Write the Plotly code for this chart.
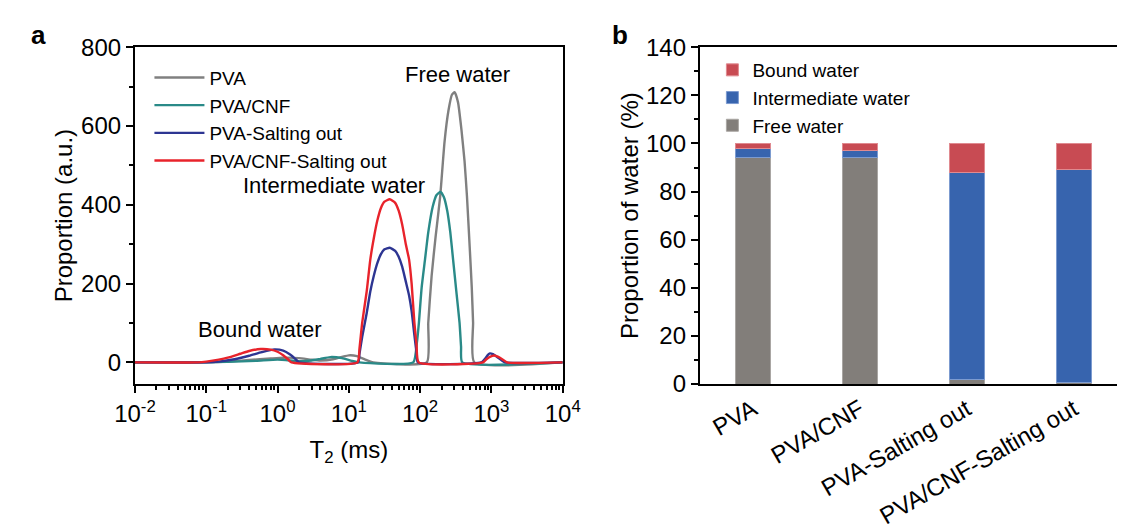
import plotly.graph_objects as go

# ---------------- Panel a data (T2 in ms, proportion in a.u.) ----------------
pva_t2 = [0.01, 0.1, 0.2, 0.4, 0.8, 1.2, 2.0, 3.0, 4.0, 6.0, 8.0, 10.0, 13.0, 17.0, 22.0,
          124, 130, 145, 165, 191, 220, 250, 280, 305, 340, 380, 420, 454, 500, 530, 553, 575, 10000]
pva_y = [0, 0, 2, 6, 10, 12, 11, 7, 5, 8, 14, 18, 16, 7, 0,
         0, 100, 220, 320, 421, 560, 640, 680, 686, 660, 590, 510, 421, 280, 190, 101, 0, 0]

cnf_t2 = [0.01, 0.08, 0.2, 0.5, 1.0, 1.5, 2.0, 3.0, 4.0, 5.5, 8.0, 11.0, 14.0,
          80, 90, 96, 105, 117, 130, 150, 170, 193, 215, 240, 265, 290, 320, 357, 375, 390, 10000]
cnf_y = [0, 0, 1.5, 4, 7, 5, 3, 5, 9, 13.5, 11, 4, 0,
         0, 50, 100, 190, 261, 330, 395, 425, 433, 420, 385, 330, 261, 185, 101, 40, 0, 0]

pvas_t2 = [0.01, 0.1, 0.15, 0.25, 0.4, 0.6, 0.9, 1.2, 1.5, 1.8, 2.0,
           13.5, 14.1, 15.4, 17.8, 20, 22.4, 25.1, 28.2, 31.6, 37.4, 44.7, 50, 56, 63, 70, 76, 83, 89, 93,
           720, 800, 900, 950, 1050, 1200, 1400, 1550, 10000]
pvas_y = [0, 0, 2, 8, 17, 26, 33, 30, 20, 8, 0,
          0, 22, 65, 125, 180, 220, 252, 275, 287, 291, 283, 268, 243, 205, 170, 130, 70, 25, 0,
          0, 8, 20, 23, 21, 14, 5, 0, 0]

cnfs_t2 = [0.01, 0.077, 0.1, 0.15, 0.2, 0.3, 0.4, 0.58, 0.8, 1.0, 1.2, 1.4, 1.57,
           13.2, 14.1, 15.4, 17.8, 20, 22.4, 25.1, 28.2, 31.6, 37.4, 44.7, 50, 56, 63, 70, 76, 83, 89, 95.5,
           760, 850, 950, 1096, 1250, 1450, 1660, 10000]
cnfs_y = [0, 0, 2, 7, 12, 22, 29, 34, 32.5, 27, 18, 8, 0,
          0, 35, 101, 180, 261, 315, 360, 392, 408, 414, 405, 385, 350, 300, 261, 200, 101, 45, 0,
          0, 8, 14, 17.5, 14, 7, 0, 0]

line_names = ["PVA", "PVA/CNF", "PVA-Salting out", "PVA/CNF-Salting out"]
line_colors = ["#808080", "#2A8A88", "#2D3592", "#E8232B"]

x_tick_vals = [0.01, 0.1, 1, 10, 100, 1000, 10000]
x_tick_text = ["10<sup>-2</sup>", "10<sup>-1</sup>", "10<sup>0</sup>", "10<sup>1</sup>",
               "10<sup>2</sup>", "10<sup>3</sup>", "10<sup>4</sup>"]

# ---------------- Panel b data (%) ----------------
samples = ["PVA", "PVA/CNF", "PVA-Salting out", "PVA/CNF-Salting out"]
free_water = [94.3, 94.0, 1.9, 0.8]
intermediate_water = [3.6, 3.1, 85.9, 88.2]
bound_water = [2.1, 2.9, 12.2, 11.0]

FONT = "Arial, Liberation Sans, sans-serif"
TICK = 24

fig = go.Figure()

series = [(pva_t2, pva_y), (cnf_t2, cnf_y), (pvas_t2, pvas_y), (cnfs_t2, cnfs_y)]
for (xs, ys), name, col in zip(series, line_names, line_colors):
    fig.add_trace(go.Scatter(x=xs, y=ys, mode="lines", name=name,
                             line=dict(color=col, width=2.4, shape="spline", smoothing=0.5),
                             xaxis="x", yaxis="y", legend="legend"))

bar_specs = [("Free water", free_water, "#827E7A", "#A9A6A3"),
             ("Intermediate water", intermediate_water, "#3764AE", "#7C9BD0"),
             ("Bound water", bound_water, "#C84B53", "#E08A90")]
for name, vals, col, edge in bar_specs:
    fig.add_trace(go.Bar(x=list(range(len(samples))), y=vals, name=name, width=0.325,
                         marker=dict(color=col, line=dict(color=edge, width=1)),
                         xaxis="x2", yaxis="y2", legend="legend2"))

minor_log = [m * 10 ** k for k in range(-2, 4) for m in range(2, 10)]

ydom = [(529 - 390) / 529, (529 - 35) / 529]


def label(text, x, y, size):
    return dict(text=text, x=x / 1135, y=(529 - y) / 529, xref="paper", yref="paper",
                xanchor="center", yanchor="middle", showarrow=False, font=dict(size=size))


fig.update_layout(
    width=1135, height=529,
    margin=dict(l=0, r=0, t=0, b=0),
    paper_bgcolor="white", plot_bgcolor="white",
    font=dict(family=FONT, size=TICK, color="black"),
    barmode="stack",
    xaxis=dict(domain=[118 / 1135, 561 / 1135], type="log", range=[-2, 4],
               tickmode="array", tickvals=x_tick_vals, ticktext=x_tick_text,
               showline=True, linecolor="black", linewidth=2, mirror=True,
               ticks="outside", ticklen=7, tickwidth=2, tickcolor="black",
               minor=dict(tickmode="array", tickvals=minor_log, ticks="outside", ticklen=4,
                          tickwidth=1.5, tickcolor="black"),
               showgrid=False, zeroline=False,
               title=dict(text="T<sub>2</sub> (ms)", font=dict(size=TICK), standoff=15),
               tickfont=dict(size=TICK), anchor="y"),
    yaxis=dict(domain=ydom, range=[-55, 800], tickvals=[0, 200, 400, 600, 800],
               showline=True, linecolor="black", linewidth=2, mirror=True,
               ticks="outside", ticklen=7, tickwidth=2, tickcolor="black",
               minor=dict(tickvals=[100, 300, 500, 700], ticks="outside", ticklen=4,
                          tickwidth=1.5, tickcolor="black"),
               showgrid=False, zeroline=False,
               title=dict(text="Proportion (a.u.)", font=dict(size=TICK), standoff=2),
               tickfont=dict(size=TICK), anchor="x"),
    xaxis2=dict(domain=[703 / 1135, 1.0], range=[-0.497, 3.405],
                tickmode="array", tickvals=list(range(len(samples))), ticktext=samples,
                tickangle=-30, ticks="", showline=True, linecolor="black", linewidth=2,
                mirror=True, showgrid=False, zeroline=False, tickfont=dict(size=TICK),
                anchor="y2"),
    yaxis2=dict(domain=ydom, range=[0, 140], tickvals=list(range(0, 141, 20)),
                showline=True, linecolor="black", linewidth=2, mirror=False,
                ticks="outside", ticklen=7, tickwidth=2, tickcolor="black",
                minor=dict(tickvals=list(range(10, 140, 20)), ticks="outside", ticklen=4,
                           tickwidth=1.5, tickcolor="black"),
                showgrid=False, zeroline=False,
                title=dict(text="Proportion of water (%)", font=dict(size=TICK), standoff=1),
                tickfont=dict(size=TICK), anchor="x2"),
    legend=dict(x=133 / 1135, y=(529 - 47) / 529, xanchor="left", yanchor="top",
                bgcolor="rgba(0,0,0,0)", font=dict(size=19), itemwidth=50,
                traceorder="normal"),
    legend2=dict(x=716 / 1135, y=(529 - 39) / 529, xanchor="left", yanchor="top",
                 bgcolor="rgba(0,0,0,0)", font=dict(size=19), traceorder="reversed"),
    showlegend=True,
    annotations=[
        label("Free water", 452, 64, 22),
        label("Intermediate water", 324, 181, 22),
        label("Bound water", 247, 332, 22),
        label("<b>a</b>", 18, 22, 26),
        label("<b>b</b>", 620, 22, 26),
    ],
)

fig.write_html("out.html")
